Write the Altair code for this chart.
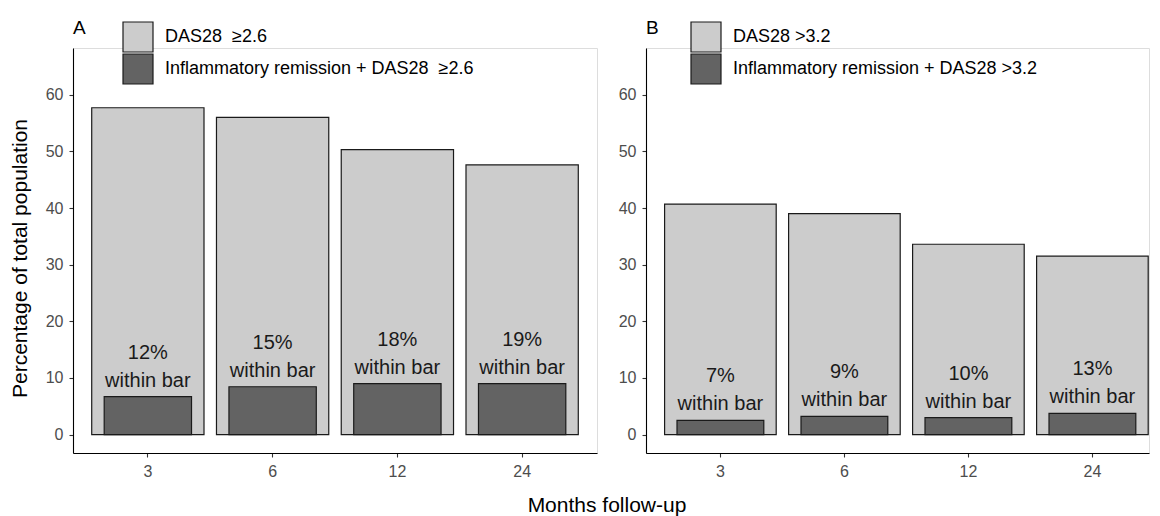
import altair as alt
import pandas as pd

# ---- data ----
months = ["3", "6", "12", "24"]

a_total = [57.7, 56.0, 50.3, 47.6]      # DAS28 >=2.6 (% of total population)
a_infl = [6.7, 8.45, 9.0, 9.0]          # inflammatory remission + DAS28 >=2.6
a_pct = [12, 15, 18, 19]                # % within bar

b_total = [40.7, 39.0, 33.6, 31.5]      # DAS28 >3.2
b_infl = [2.5, 3.2, 3.0, 3.75]          # inflammatory remission + DAS28 >3.2
b_pct = [7, 9, 10, 13]

a_series = ["DAS28\u00a0 \u22652.6", "Inflammatory remission + DAS28\u00a0 \u22652.6"]
b_series = ["DAS28 >3.2", "Inflammatory remission + DAS28 >3.2"]

y_ticks = [0, 10, 20, 30, 40, 50, 60]
y_domain = [-3.25, 68.25]

FONT = "Liberation Sans"
LIGHT = "#cccccc"
DARK = "#636363"
OUTLINE = "#1a1a1a"

PLOT_H = 405
A_W = 524
B_W = 503


def panel(letter, total, infl, pct, series, width, title_pad, x_scale_kw, y_title=None):
    df = pd.DataFrame({
        "month": months,
        "total": total,
        "infl": infl,
        "label": [f"{p}%\nwithin bar" for p in pct],
        "s_total": series[0],
        "s_infl": series[1],
    })
    xscale = alt.Scale(domain=months, paddingInner=0.1, **x_scale_kw)
    xaxis = alt.Axis(title=None, labelAngle=0, domainColor="black",
                     domainWidth=1.1, tickColor="#333333", tickWidth=1.1, tickSize=4,
                     labelColor="#4d4d4d", labelFontSize=16, labelFont=FONT, labelPadding=6)
    x = alt.X("month:N", scale=xscale, sort=months, axis=xaxis)

    yaxis_kw = dict(values=y_ticks, grid=False, domainColor="black", domainWidth=1.1,
                    tickColor="#333333", tickWidth=1.1, tickSize=4, labelColor="#4d4d4d",
                    labelFontSize=16, labelFont=FONT, labelPadding=6)
    if y_title:
        yaxis_kw.update(title=y_title, titleFontSize=21, titleFont=FONT, titleColor="black",
                        titleFontWeight="normal", titleX=-53, titleY=210, titleBaseline="middle",
                        titleAngle=270)
    else:
        yaxis_kw.update(title=None)
    yscale = alt.Scale(domain=y_domain, nice=False, zero=False)

    cscale = alt.Scale(domain=series, range=[LIGHT, DARK])
    legend = alt.Legend(title=letter, titleOrient="left", titleAnchor="start",
                        titleBaseline="line-top", titleLineHeight=14, titleFontSize=19,
                        titleFont=FONT, titleFontWeight="normal", titleColor="black",
                        titlePadding=title_pad, orient="none", legendX=0, legendY=-27,
                        symbolType="square", symbolSize=900, symbolStrokeColor=OUTLINE,
                        symbolStrokeWidth=1.2, symbolOpacity=1, labelFontSize=18, labelFont=FONT,
                        labelColor="black", labelOffset=11, rowPadding=0, clipHeight=32,
                        padding=0, labelLimit=600)

    base = alt.Chart(df)
    light = base.mark_bar(stroke=OUTLINE, strokeWidth=1.2, opacity=1).encode(
        x=x,
        y=alt.Y("total:Q", scale=yscale, axis=alt.Axis(**yaxis_kw)),
        y2=alt.datum(0),
        fill=alt.Fill("s_total:N", scale=cscale, legend=legend),
    )
    dark = base.mark_bar(width=alt.RelativeBandSize(0.7 / 0.9), stroke=OUTLINE,
                         strokeWidth=1.2, opacity=1).encode(
        x=x,
        y=alt.Y("infl:Q"),
        y2=alt.datum(0),
        fill=alt.Fill("s_infl:N", scale=cscale, legend=legend),
    )
    text = base.mark_text(baseline="alphabetic", dy=-38, fontSize=20, font=FONT,
                          lineBreak="\n", lineHeight=28, color="#1a1a1a").encode(
        x=x,
        y=alt.Y("infl:Q"),
        text="label:N",
    )
    return alt.layer(light, dark, text).properties(width=width, height=PLOT_H)


pA = panel("A", a_total, a_infl, a_pct, a_series, A_W, 36,
           dict(paddingOuter=0.15),
           y_title="Percentage of total population")
pB = panel("B", b_total, b_infl, b_pct, b_series, B_W, 31,
           dict(paddingOuter=0.0782, align=0.959))

chart = alt.hconcat(pA, pB, spacing=19).resolve_scale(
    fill="independent", x="independent", y="independent"
).properties(
    title=alt.TitleParams("Months follow-up", orient="bottom", anchor="middle", fontSize=21,
                          font=FONT, fontWeight="normal", color="black", dx=28, offset=15,
                          baseline="top"),
    padding={"left": 0, "top": 12, "right": 0, "bottom": 0},
).configure_view(stroke=None).configure(background="white")

chart.save("out.html", embed_options={"renderer": "svg", "actions": False})
